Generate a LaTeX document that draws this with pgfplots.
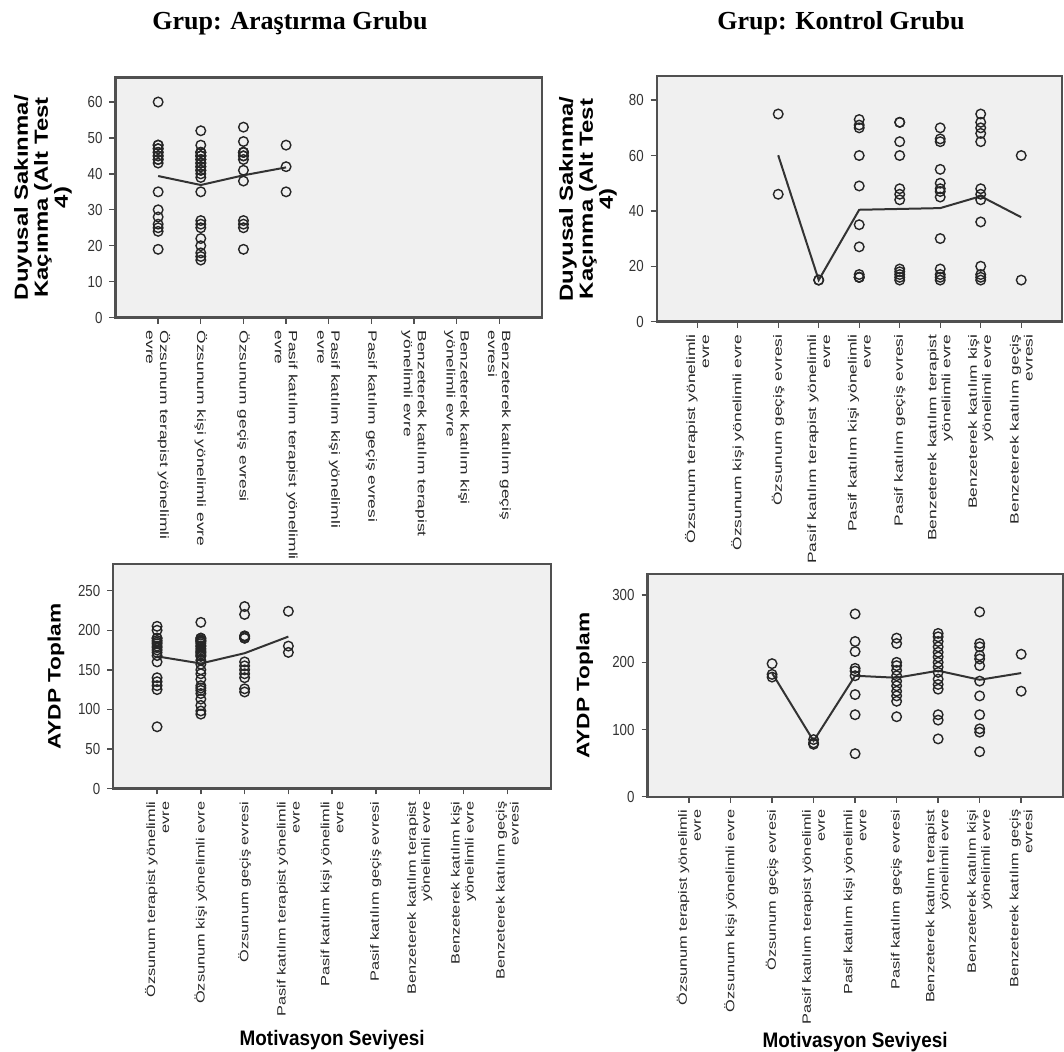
\documentclass[border=0pt]{standalone}
\usepackage{fontspec}
\setmainfont{Liberation Sans}
\usepackage{pgfplots}
\pgfplotsset{compat=1.18}
\newfontfamily\titlefont{Liberation Serif}
\newfontfamily\tickfont[FakeStretch=0.83]{Liberation Sans}
\newfontfamily\catfont[FakeStretch=1.45]{Liberation Sans}
\newfontfamily\catfontb[FakeStretch=1.36]{Liberation Sans}
\newfontfamily\labfont[FakeStretch=1.26]{Liberation Sans}
\newfontfamily\xlabfont[FakeStretch=0.9]{Liberation Sans}
\definecolor{bg}{RGB}{240,240,240}
\definecolor{frame}{RGB}{80,80,80}

\pgfplotsset{
  spss/.style={
    scale only axis,
    xmin=-1, xmax=9, ymin=0,
    xtick={0,...,8},
    axis background/.style={fill=bg},
    axis line style={draw=frame, line width=1.1pt},
    tick pos=left, tick align=outside,
    major tick length=3pt,
    tick style={draw=frame, line width=0.7pt},
    /pgf/number format/assume math mode=true,
    yticklabel style={font=\tickfont\fontsize{8}{9}\selectfont, text=black!80},
    clip=false,
  },
  catdown/.style={xticklabel style={rotate=-90, anchor=west, align=left, text=black!85,
      font=\catfont\fontsize{6}{7}\selectfont}},
  catup/.style={xticklabel style={rotate=90, anchor=east, align=right, text=black!85,
      font=\catfont\fontsize{6}{7}\selectfont}},
  catupb/.style={xticklabel style={rotate=90, anchor=east, align=right, text=black!85,
      font=\catfontb\fontsize{6}{7}\selectfont}},
  ylab/.style 2 args={every axis y label/.style={at={(axis description cs:#1,0.5)}, rotate=90,
      anchor=center, align=center, font=\labfont\bfseries\fontsize{#2}{10}\selectfont}},
  ttl/.style 2 args={every axis title/.style={at={(axis description cs:#1,#2)}, anchor=center,
      font=\titlefont\bfseries\fontsize{13}{15}\selectfont}},
  xlab/.style={every axis x label/.style={at={(axis description cs:0.5,#1)}, anchor=center,
      font=\xlabfont\bfseries\fontsize{10.5}{12}\selectfont}},
  pts/.style={only marks, mark=o, mark size=2.4pt, mark options={line width=0.7pt, draw=black!85}},
  mean/.style={no marks, line width=1pt, color=black!80},
}

\begin{document}
\begin{tikzpicture}
\useasboundingbox (0pt,0pt) rectangle (532pt,526pt);

% ---------------- Top left: Araştırma, Duyusal
\begin{axis}[spss, catdown, ylab={-0.170}{9.5}, ttl={0.409}{1.228},
  at={(57.75pt,367.2pt)}, anchor=south west, width=213.25pt, height=120pt,
  ymax=66.8, ytick={0,10,...,60},
  title={Grup: Araştırma Grubu},
  ylabel={Duyusal Sakınma/\\Kaçınma (Alt Test\\4)},
  xticklabels={{Özsunum terapist yönelimli\\evre},{Özsunum kişi yönelimli evre},{Özsunum geçiş evresi},
    {Pasif katılım terapist yönelimli\\evre},{Pasif katılım kişi yönelimli\\evre},{Pasif katılım geçiş evresi},
    {Benzeterek katılım terapist\\yönelimli evre},{Benzeterek katılım kişi\\yönelimli evre},{Benzeterek katılım geçiş\\evresi}},
]
\addplot[pts] coordinates {
 (0,60)(0,48)(0,48)(0,47)(0,47)(0,46)(0,46)(0,45)(0,45)(0,44)(0,44)(0,43)(0,35)(0,30)(0,28)(0,26)(0,25)(0,24)(0,19)
 (1,52)(1,48)(1,46)(1,46)(1,46)(1,45)(1,45)(1,45)(1,44)(1,44)(1,43)(1,43)(1,42)(1,42)(1,41)(1,41)(1,40)(1,39)(1,35)(1,27)(1,26)(1,25)(1,22)(1,20)(1,18)(1,17)(1,16)
 (2,53)(2,49)(2,46)(2,46)(2,46)(2,45)(2,45)(2,44)(2,41)(2,38)(2,27)(2,26)(2,25)(2,19)
 (3,48)(3,42)(3,35)
};
\addplot[mean] coordinates {(0,39.4)(1,36.9)(2,39.6)(3,41.8)};
\end{axis}

% ---------------- Top right: Kontrol, Duyusal
\begin{axis}[spss, catup, ylab={-0.170}{9.5}, ttl={0.455}{1.218},
  at={(328.35pt,365.2pt)}, anchor=south west, width=202.5pt, height=122.6pt,
  ymax=88.6, ytick={0,20,...,80},
  title={Grup: Kontrol Grubu},
  ylabel={Duyusal Sakınma/\\Kaçınma (Alt Test\\4)},
  xticklabels={{Özsunum terapist yönelimli\\evre},{Özsunum kişi yönelimli evre},{Özsunum geçiş evresi},
    {Pasif katılım terapist yönelimli\\evre},{Pasif katılım kişi yönelimli\\evre},{Pasif katılım geçiş evresi},
    {Benzeterek katılım terapist\\yönelimli evre},{Benzeterek katılım kişi\\yönelimli evre},{Benzeterek katılım geçiş\\evresi}},
]
\addplot[pts] coordinates {
 (2,75)(2,46)
 (3,15)(3,15)
 (4,73)(4,71)(4,70)(4,60)(4,49)(4,35)(4,27)(4,17)(4,16)(4,16)(4,16)
 (5,72)(5,72)(5,65)(5,60)(5,48)(5,46)(5,44)(5,19)(5,18)(5,17)(5,16)(5,15)
 (6,70)(6,66)(6,65)(6,55)(6,50)(6,48)(6,47)(6,45)(6,30)(6,19)(6,17)(6,16)(6,15)
 (7,75)(7,72)(7,70)(7,68)(7,65)(7,48)(7,46)(7,44)(7,36)(7,20)(7,17)(7,16)(7,15)
 (8,60)(8,15)
};
\addplot[mean] coordinates {(2,60.1)(3,15)(4,40.4)(5,40.7)(6,41)(7,45.3)(8,37.7)};
\end{axis}

% ---------------- Bottom left: Araştırma, AYDP
\begin{axis}[spss, catupb, ylab={-0.131}{9}, xlab={-1.122},
  at={(56.65pt,131.75pt)}, anchor=south west, width=218.85pt, height=112.1pt,
  ymax=283.4, ytick={0,50,...,250},
  ylabel={AYDP Toplam},
  xlabel={Motivasyon Seviyesi},
  xticklabels={{Özsunum terapist yönelimli\\evre},{Özsunum kişi yönelimli evre},{Özsunum geçiş evresi},
    {Pasif katılım terapist yönelimli\\evre},{Pasif katılım kişi yönelimli\\evre},{Pasif katılım geçiş evresi},
    {Benzeterek katılım terapist\\yönelimli evre},{Benzeterek katılım kişi\\yönelimli evre},{Benzeterek katılım geçiş\\evresi}},
]
\addplot[pts] coordinates {
 (0,205)(0,200)(0,190)(0,190)(0,187)(0,185)(0,183)(0,180)(0,178)(0,175)(0,172)(0,168)(0,160)(0,140)(0,135)(0,130)(0,125)(0,78)
 (1,210)(1,190)(1,190)(1,188)(1,187)(1,186)(1,185)(1,183)(1,180)(1,180)(1,177)(1,175)(1,173)(1,172)(1,170)(1,168)(1,167)(1,162)(1,157)(1,150)(1,145)(1,138)(1,130)(1,127)(1,124)(1,120)(1,113)(1,105)(1,98)(1,94)
 (2,230)(2,220)(2,193)(2,192)(2,190)(2,190)(2,160)(2,155)(2,150)(2,145)(2,140)(2,126)(2,122)
 (3,224)(3,180)(3,172)
};
\addplot[mean] coordinates {(0,167)(1,158)(2,171)(3,192)};
\end{axis}

% ---------------- Bottom right: Kontrol, AYDP
\begin{axis}[spss, catupb, ylab={-0.151}{9}, xlab={-1.103},
  at={(323.75pt,127.65pt)}, anchor=south west, width=207.6pt, height=111.2pt,
  ymax=331, ytick={0,100,...,300},
  ylabel={AYDP Toplam},
  xlabel={Motivasyon Seviyesi},
  xticklabels={{Özsunum terapist yönelimli\\evre},{Özsunum kişi yönelimli evre},{Özsunum geçiş evresi},
    {Pasif katılım terapist yönelimli\\evre},{Pasif katılım kişi yönelimli\\evre},{Pasif katılım geçiş evresi},
    {Benzeterek katılım terapist\\yönelimli evre},{Benzeterek katılım kişi\\yönelimli evre},{Benzeterek katılım geçiş\\evresi}},
]
\addplot[pts] coordinates {
 (2,198)(2,182)(2,178)
 (3,85)(3,80)(3,78)
 (4,272)(4,231)(4,216)(4,191)(4,187)(4,180)(4,152)(4,122)(4,64)
 (5,236)(5,228)(5,200)(5,195)(5,188)(5,180)(5,172)(5,165)(5,157)(5,150)(5,142)(5,119)
 (6,243)(6,238)(6,231)(6,223)(6,215)(6,208)(6,200)(6,193)(6,185)(6,175)(6,167)(6,160)(6,122)(6,114)(6,86)
 (7,275)(7,228)(7,223)(7,210)(7,205)(7,195)(7,172)(7,150)(7,122)(7,101)(7,96)(7,67)
 (8,212)(8,157)
};
\addplot[mean] coordinates {(2,184)(3,83)(4,180)(5,177)(6,187.5)(7,174)(8,184)};
\end{axis}
\end{tikzpicture}
\end{document}
